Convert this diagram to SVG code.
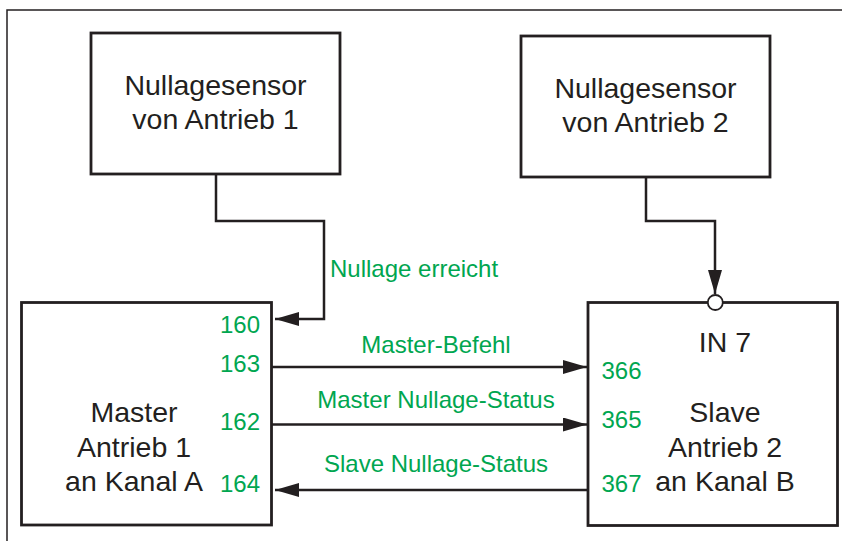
<svg xmlns="http://www.w3.org/2000/svg" width="842" height="541" viewBox="0 0 842 541">
<defs>
<style>
.box{fill:#fff;stroke:#231f20;stroke-width:2.8}
.ln{fill:none;stroke:#231f20;stroke-width:2.5}
.t{font-family:"Liberation Sans",Arial,sans-serif;font-size:28.5px;fill:#231f20;text-anchor:middle}
.g{font-family:"Liberation Sans",Arial,sans-serif;font-size:24px;fill:#00a650}
.gm{text-anchor:middle}
.ge{text-anchor:end}
</style>
<marker id="ah" viewBox="0 0 24 14" refX="24" refY="7" markerWidth="24" markerHeight="14" markerUnits="userSpaceOnUse" orient="auto">
<path d="M0,0 L24,7 L0,14 Z" fill="#231f20"/>
</marker>
</defs>
<rect width="842" height="541" fill="#fff"/>
<rect x="7" y="10" width="845" height="545" fill="none" stroke="#231f20" stroke-width="1.5"/>
<g id="connectors">
<polyline class="ln" points="216,174 216,221 324,221 324,319 275,319" marker-end="url(#ah)"/>
<polyline class="ln" points="646,177 646,221 715,221 715,294" marker-end="url(#ah)"/>
<line class="ln" x1="272" y1="367" x2="587" y2="367" marker-end="url(#ah)"/>
<line class="ln" x1="272" y1="424.5" x2="587" y2="424.5" marker-end="url(#ah)"/>
<line class="ln" x1="588" y1="490" x2="275" y2="490" marker-end="url(#ah)"/>
<text class="g" x="330" y="277">Nullage erreicht</text>
<text class="g gm" x="436" y="353">Master-Befehl</text>
<text class="g gm" x="436" y="408">Master Nullage-Status</text>
<text class="g gm" x="436" y="472">Slave Nullage-Status</text>
</g>
<g id="sensor1">
<rect class="box" x="91" y="33" width="249" height="141"/>
<text class="t" x="215.5" y="95">Nullagesensor</text>
<text class="t" x="215.5" y="129">von Antrieb 1</text>
</g>
<g id="sensor2">
<rect class="box" x="521" y="36" width="249" height="141"/>
<text class="t" x="645.5" y="98">Nullagesensor</text>
<text class="t" x="645.5" y="132">von Antrieb 2</text>
</g>
<g id="master">
<rect class="box" x="21.5" y="302.5" width="250" height="222.5"/>
<text class="t" x="134" y="422">Master</text>
<text class="t" x="134" y="457">Antrieb 1</text>
<text class="t" x="134" y="491">an Kanal A</text>
<text class="g ge" x="260" y="333">160</text>
<text class="g ge" x="260" y="372">163</text>
<text class="g ge" x="260" y="430">162</text>
<text class="g ge" x="260" y="492">164</text>
</g>
<g id="slave">
<rect class="box" x="588" y="302.5" width="249.5" height="223"/>
<circle cx="715.3" cy="302.5" r="7.5" fill="#fff" stroke="#231f20" stroke-width="1.8"/>
<text class="t" x="725" y="352">IN 7</text>
<text class="t" x="725" y="422">Slave</text>
<text class="t" x="725" y="457">Antrieb 2</text>
<text class="t" x="725" y="491">an Kanal B</text>
<text class="g" x="601.5" y="379">366</text>
<text class="g" x="601.5" y="428">365</text>
<text class="g" x="601.5" y="492">367</text>
</g>
</svg>
